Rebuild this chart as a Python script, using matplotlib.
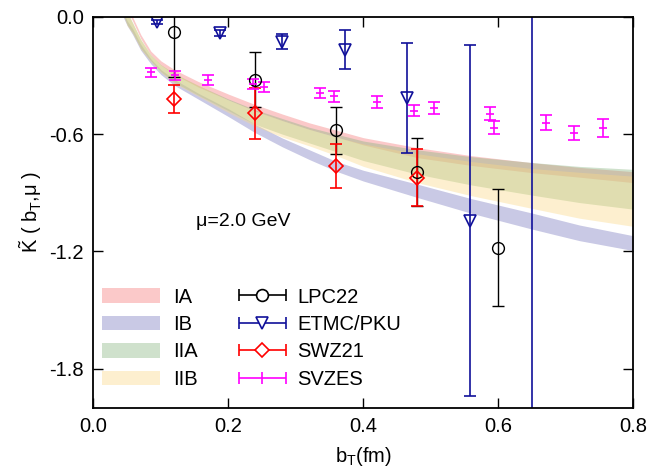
import numpy as np
import matplotlib
matplotlib.use("Agg")
import matplotlib.pyplot as plt
from matplotlib.container import ErrorbarContainer
from matplotlib.legend_handler import HandlerErrorbar
from matplotlib.patches import Patch

plt.rcParams['font.family'] = ['Liberation Sans', 'DejaVu Sans']
plt.rcParams['mathtext.fontset'] = 'custom'
plt.rcParams['mathtext.rm'] = 'Liberation Sans'
plt.rcParams['mathtext.it'] = 'Liberation Sans:italic'
plt.rcParams['font.size'] = 14.5

# bands
band_x = [0.04, 0.05, 0.058, 0.07, 0.085, 0.10, 0.12, 0.155, 0.20, 0.24,
          0.28, 0.32, 0.36, 0.40, 0.48, 0.56, 0.65, 0.72, 0.80]
ia_hi = [0.15, 0.06, 0.0, -0.09, -0.175, -0.225, -0.27, -0.33, -0.395, -0.449,
         -0.497, -0.542, -0.58, -0.618, -0.669, -0.71, -0.746, -0.77, -0.792]
ia_lo = [0.12, 0.035, -0.02, -0.11, -0.195, -0.247, -0.295, -0.358, -0.425, -0.483,
         -0.531, -0.576, -0.615, -0.655, -0.72, -0.76, -0.797, -0.82, -0.848]
ib_hi = [0.06, -0.02, -0.06, -0.14, -0.215, -0.27, -0.32, -0.39, -0.47, -0.55,
         -0.62, -0.68, -0.74, -0.785, -0.856, -0.93, -1.004, -1.065, -1.12]
ib_lo = [0.03, -0.045, -0.09, -0.17, -0.24, -0.295, -0.35, -0.42, -0.51, -0.593,
         -0.665, -0.73, -0.79, -0.84, -0.924, -1.005, -1.086, -1.145, -1.196]
iia_hi = [0.11, 0.025, -0.03, -0.115, -0.195, -0.245, -0.29, -0.35, -0.42, -0.475,
          -0.52, -0.565, -0.60, -0.635, -0.68, -0.715, -0.745, -0.765, -0.78]
iia_lo = [0.05, -0.04, -0.08, -0.16, -0.225, -0.28, -0.335, -0.40, -0.48, -0.55,
          -0.60, -0.645, -0.69, -0.735, -0.805, -0.86, -0.912, -0.95, -0.984]
iib_hi = [0.11, 0.025, -0.03, -0.115, -0.195, -0.245, -0.29, -0.35, -0.425, -0.48,
          -0.53, -0.575, -0.615, -0.65, -0.70, -0.74, -0.776, -0.795, -0.815]
iib_lo = [0.045, -0.045, -0.085, -0.165, -0.23, -0.285, -0.34, -0.405, -0.49, -0.56,
          -0.615, -0.66, -0.71, -0.765, -0.848, -0.915, -0.98, -1.03, -1.072]

# lattice points
lpc_x = [0.12, 0.24, 0.36, 0.48, 0.60]
lpc_y = [-0.075, -0.321, -0.581, -0.792, -1.182]
lpc_e = [0.23, 0.14, 0.12, 0.175, 0.30]

etmc_x = [0.094, 0.187, 0.280, 0.373, 0.465, 0.558, 0.650]
etmc_y = [-0.025, -0.083, -0.126, -0.168, -0.415, -1.043, -2.4]
etmc_e = [0.012, 0.015, 0.037, 0.10, 0.28, 0.90, 2.6]

swz_x = [0.12, 0.24, 0.36, 0.48]
swz_y = [-0.42, -0.494, -0.763, -0.822]
swz_e = [0.073, 0.13, 0.115, 0.147]

svz_x = [0.085, 0.121, 0.169, 0.236, 0.253, 0.336, 0.357, 0.420, 0.475, 0.504,
         0.587, 0.593, 0.671, 0.712, 0.755]
svz_y = [-0.284, -0.299, -0.321, -0.343, -0.358, -0.389, -0.406, -0.435, -0.479, -0.466,
         -0.496, -0.566, -0.542, -0.593, -0.567]
svz_e = [0.024, 0.024, 0.025, 0.025, 0.025, 0.027, 0.027, 0.03, 0.03, 0.03,
         0.033, 0.033, 0.038, 0.037, 0.045]

c_ia = (0.96, 0.47, 0.47)
c_ib = (0.47, 0.47, 0.75)
c_iia = (0.53, 0.71, 0.50)
c_iib = (0.98, 0.85, 0.53)
alpha = 0.4

fig = plt.figure(figsize=(6.57, 4.68), dpi=100)
ax = fig.add_axes([0.1423, 0.129, 0.8217, 0.8347])

ax.fill_between(band_x, ia_lo, ia_hi, color=c_ia, alpha=alpha, lw=0)
ax.fill_between(band_x, ib_lo, ib_hi, color=c_ib, alpha=alpha, lw=0)
ax.fill_between(band_x, iia_lo, iia_hi, color=c_iia, alpha=alpha, lw=0)
ax.fill_between(band_x, iib_lo, iib_hi, color=c_iib, alpha=alpha, lw=0)

navy = '#10109a'
ax.errorbar(lpc_x, lpc_y, yerr=lpc_e, fmt='o', ms=8.5, mfc='none', mec='black',
            color='black', ecolor='black', elinewidth=1, capsize=4.5, mew=1)
ax.errorbar(etmc_x, etmc_y, yerr=etmc_e, fmt='v', ms=8.5, mfc='none', mec=navy,
            ecolor=navy, elinewidth=1.2, capsize=4.5, mew=1.2)
ax.errorbar(swz_x, swz_y, yerr=swz_e, fmt='D', ms=7, mfc='none', mec='red',
            ecolor='red', elinewidth=1.2, capsize=4.5, mew=1.2)
ax.errorbar(svz_x, svz_y, yerr=svz_e, fmt='_', ms=6, mec='magenta',
            ecolor='magenta', elinewidth=1.2, capsize=4, mew=1.2)

ax.text(0.152, -1.045, 'μ=2.0 GeV', fontsize=14, va='center', ha='left')

ax.set_xlim(0, 0.8)
ax.set_ylim(-2.0, 0.0)
ax.set_xticks([0.0, 0.2, 0.4, 0.6, 0.8])
ax.set_xticklabels(['0.0', '0.2', '0.4', '0.6', '0.8'])
ax.set_yticks([0.0, -0.6, -1.2, -1.8])
ax.set_yticklabels(['0.0', '-0.6', '-1.2', '-1.8'])
ax.tick_params(direction='in', length=7, width=1, top=True, right=True, pad=7)
for s in ax.spines.values():
    s.set_linewidth(1.3)

ax.set_xlabel(r'$\mathregular{b_T}$(fm)', labelpad=6)
ax.set_ylabel(r'$\tilde{\mathregular{K}}$ ( $\mathregular{b_T}$,μ )', labelpad=4)

# legends
band_handles = [Patch(color=c, alpha=alpha, lw=0) for c in (c_ia, c_ib, c_iia, c_iib)]
leg1 = ax.legend(band_handles, ['IA', 'IB', 'IIA', 'IIB'], loc='upper left',
                 bbox_to_anchor=(0.0, 0.328), frameon=False, borderpad=0,
                 borderaxespad=0.4, handlelength=2.9, handleheight=0.75,
                 handletextpad=0.65, labelspacing=0.42, fontsize=14.5)
ax.add_artist(leg1)

proxies = []
for fmt, c, ms, lab in [('o', 'black', 8.5, 'LPC22'), ('v', navy, 8.5, 'ETMC/PKU'),
                        ('D', 'red', 7, 'SWZ21'), ('|', 'magenta', 8, 'SVZES')]:
    h = ax.errorbar([np.nan], [np.nan], xerr=[1.0], fmt=fmt, ms=ms, mfc='white',
                    mec=c, ecolor=c, elinewidth=1.2, capsize=4.5, mew=1.2, label=lab)
    proxies.append(h)
leg2 = ax.legend(proxies, [p.get_label() for p in proxies], loc='upper left',
                 bbox_to_anchor=(0.255, 0.328), frameon=False, borderpad=0,
                 borderaxespad=0.4, handlelength=2.3, handleheight=0.75,
                 handletextpad=0.6, labelspacing=0.42, fontsize=14.5,
                 handler_map={ErrorbarContainer: HandlerErrorbar(xerr_size=1.15)})

fig.savefig('out.png', dpi=100)
